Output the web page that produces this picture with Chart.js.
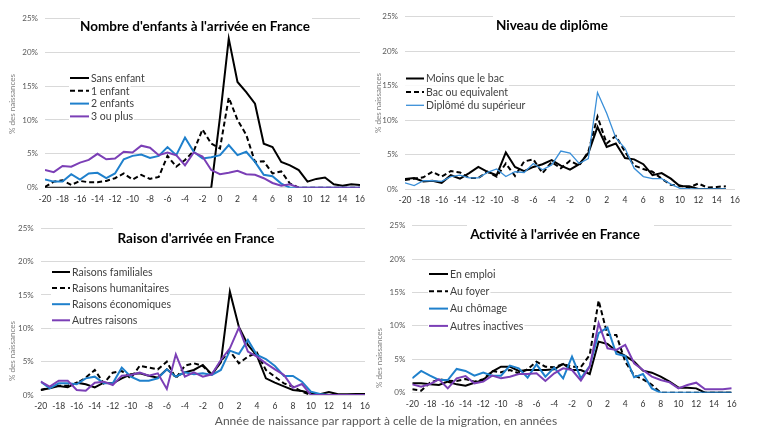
<!DOCTYPE html>
<html>
<head>
<meta charset="utf-8">
<script src="https://cdn.jsdelivr.net/npm/chart.js@4.4.1/dist/chart.umd.min.js"></script>
<style>
  body { margin: 0; background: #fff; width: 760px; height: 432px; position: relative; overflow: hidden; font-family: Lato, sans-serif; }
  canvas { position: absolute; }
  #xtitle { position: absolute; left: 0; width: 772px; top: 413px; text-align: center; font-size: 12px; color: #595959; }
</style>
</head>
<body>
<canvas id="enfants" width="380" height="210" style="left:0;top:0"></canvas>
<canvas id="diplome" width="392" height="210" style="left:368px;top:0"></canvas>
<canvas id="raison" width="380" height="222" style="left:0;top:210px"></canvas>
<canvas id="activite" width="392" height="222" style="left:368px;top:210px"></canvas>
<div id="xtitle">Année de naissance par rapport à celle de la migration, en années</div>
<script>
// years relative to migration
const years = [-20, -19, -18, -17, -16, -15, -14, -13, -12, -11, -10, -9, -8, -7, -6, -5, -4, -3, -2, -1,
  0, 1, 2, 3, 4, 5, 6, 7, 8, 9, 10, 11, 12, 13, 14, 15, 16];
const xTicks = [-20, -18, -16, -14, -12, -10, -8, -6, -4, -2, 0, 2, 4, 6, 8, 10, 12, 14, 16];
const yTicks = [0, 5, 10, 15, 20, 25];

// Nombre d'enfants à l'arrivée en France
const sansEnfant = [0, 0, 0, 0, 0, 0, 0, 0, 0, 0, 0, 0, 0, 0, 0, 0, 0, 0, 0, 0,
  10.4, 22.0, 15.6, 14.1, 12.4, 6.5, 6.0, 3.8, 3.3, 2.6, 0.9, 1.3, 1.5, 0.5, 0.3, 0.5, 0.4];
const unEnfant = [0.1, 0.9, 1.1, 0.4, 1.0, 0.8, 0.8, 1.0, 1.4, 2.1, 1.2, 1.9, 1.3, 1.6, 4.7, 3.1, 4.1, 5.4, 8.6, 6.5,
  5.8, 13.3, 10.0, 7.8, 3.8, 3.9, 2.1, 2.4, 0.6, 0, 0, 0, 0, 0, 0, 0, 0];
const deuxEnfants = [1.2, 0.9, 0.9, 2.0, 1.2, 2.1, 2.2, 1.4, 2.1, 4.2, 4.7, 4.9, 4.4, 4.7, 6.0, 4.8, 7.4, 5.3, 4.3, 4.5,
  4.8, 6.3, 4.8, 5.3, 3.8, 1.9, 1.7, 0.6, 0, 0, 0, 0, 0, 0, 0, 0, 0];
const troisPlus = [2.6, 2.3, 3.2, 3.1, 3.7, 4.1, 5.0, 4.2, 4.3, 5.3, 5.2, 6.2, 5.9, 4.8, 5.2, 4.8, 3.3, 5.2, 4.6, 2.6,
  2.0, 2.2, 2.5, 2.0, 1.9, 1.4, 0.7, 0.3, 0.5, 0, 0, 0, 0, 0, 0, 0, 0];

// Niveau de diplôme (up to +15)
const moinsBac = [1.45, 1.6, 1.1, 1.2, 0.9, 2.0, 1.5, 2.3, 3.2, 2.5, 2.0, 5.3, 3.2, 2.6, 3.2, 3.6, 4.2, 3.4, 2.8, 3.6,
  5.2, 9.0, 6.1, 6.6, 4.5, 4.3, 3.6, 2.0, 2.3, 1.5, 0.4, 0.4, 0, 0, 0, 0];
const bacEquiv = [1.3, 1.5, 1.7, 2.5, 1.8, 2.6, 2.4, 1.6, 1.6, 2.5, 1.8, 3.7, 1.9, 4.0, 4.3, 2.3, 3.9, 3.0, 4.1, 3.4,
  5.4, 10.5, 6.6, 7.7, 5.4, 3.4, 2.9, 2.5, 1.5, 0.6, 0.5, 0.2, 0.8, 0.2, 0.3, 0.4];
const superieur = [0.9, 0.5, 1.2, 1.2, 1.1, 1.8, 2.0, 1.6, 1.6, 2.4, 2.9, 1.8, 2.5, 2.4, 3.7, 2.8, 3.5, 5.5, 5.2, 3.7,
  4.4, 14.0, 11.0, 7.4, 5.9, 3.0, 1.8, 1.5, 1.5, 0.7, 0.1, 0, 0, 0, 0, 0];

// Raison d'arrivée en France
const familiales = [0.75, 1.0, 1.35, 1.15, 1.85, 1.6, 1.15, 1.85, 1.75, 2.5, 3.1, 3.25, 2.9, 2.6, 3.85, 2.75, 3.4, 3.75, 4.5, 3.1,
  4.9, 15.5, 10.2, 7.5, 5.9, 2.5, 1.85, 1.3, 0.75, 0.6, 0.25, 0.1, 0.45, 0.1, 0.1, 0.15, 0.15];
const humanitaires = [0.75, 1.1, 1.4, 1.4, 1.75, 2.6, 3.75, 1.75, 3.35, 3.6, 2.5, 4.4, 4.1, 3.85, 5.0, 2.5, 4.4, 4.75, 4.35, 3.0,
  5.1, 6.6, 4.75, 5.75, 6.35, 3.75, 2.75, 1.75, 1.25, 0.5, 0, 0, 0, 0, 0, 0, 0];
const economiques = [2.0, 1.0, 1.75, 1.75, 1.6, 2.5, 2.75, 1.75, 1.75, 4.1, 2.75, 2.15, 2.15, 2.5, 3.85, 2.75, 3.4, 3.1, 3.25, 3.0,
  3.75, 6.65, 6.15, 8.25, 6.0, 5.4, 4.35, 2.85, 2.85, 2.0, 0.5, 0.15, 0, 0, 0, 0, 0];
const autresRaisons = [2.0, 1.25, 2.15, 2.15, 0.75, 0.65, 1.85, 2.0, 1.5, 2.9, 3.0, 3.35, 2.9, 3.25, 0.9, 6.1, 2.75, 3.4, 2.75, 3.1,
  5.25, 7.0, 10.1, 6.5, 5.75, 4.75, 3.85, 3.0, 1.1, 1.65, 0, 0, 0, 0, 0, 0, 0];

// Activité à l'arrivée en France
const enEmploi = [1.4, 1.4, 1.25, 1.15, 1.65, 1.25, 1.05, 1.5, 1.9, 3.15, 3.9, 3.9, 3.25, 3.4, 3.4, 3.4, 3.5, 4.3, 3.4, 3.4,
  2.8, 7.65, 7.3, 6.25, 5.5, 4.65, 3.3, 3.0, 2.4, 1.65, 0.75, 0.75, 0.65, 0, 0, 0, 0];
const auFoyer = [0.5, 0.3, 1.5, 2.0, 1.8, 1.75, 2.05, 1.65, 2.0, 3.25, 3.05, 3.4, 2.9, 3.5, 4.65, 3.9, 3.8, 4.3, 3.9, 3.85,
  5.65, 13.8, 8.65, 8.65, 4.65, 2.6, 2.0, 1.2, 0, 0, 0, 0, 0, 0, 0, 0, 0];
const auChomage = [2.15, 3.25, 2.55, 1.9, 1.9, 3.55, 3.25, 2.55, 3.0, 2.55, 2.55, 4.05, 3.65, 2.25, 4.25, 2.4, 3.75, 2.15, 5.4, 2.15,
  4.0, 8.9, 9.75, 5.8, 5.5, 2.3, 2.8, 0.65, 0, 0, 0, 0, 0, 0, 0, 0, 0];
const autresInactives = [1.25, 0.9, 1.3, 2.0, 0.65, 2.15, 2.5, 1.4, 1.65, 2.55, 2.15, 2.4, 2.8, 2.8, 2.9, 1.75, 2.9, 3.65, 3.4, 1.8,
  3.9, 10.4, 6.65, 6.4, 7.15, 4.4, 3.4, 2.4, 1.9, 1.55, 0.65, 1.15, 1.5, 0.5, 0.5, 0.5, 0.65];

const BLACK = "#000000";
const BLUE = "#1f80cc";
const PURPLE = "#7b3fb6";

function series(label, values, color, width, dash) {
  return { label, values, color, width: width || 2, dash: dash || [] };
}

// title box, title text, rotated y title and the in-plot legend
const panelDecor = {
  id: "panelDecor",
  beforeDatasetsDraw(chart, args, o) {
    const ctx = chart.ctx;
    ctx.save();
    ctx.fillStyle = "#fff";
    ctx.fillRect(o.box[0], o.box[1], o.box[2], o.box[3]);
    ctx.fillStyle = "#000";
    ctx.font = "bold 13.5px Lato";
    ctx.textAlign = "center";
    ctx.textBaseline = "middle";
    ctx.fillText(o.title, o.titleX, o.titleY);
    ctx.translate(o.yTitleX, o.yTitleY);
    ctx.rotate(-Math.PI / 2);
    ctx.font = "8px Lato";
    ctx.fillStyle = "#808080";
    ctx.fillText("% des naissances", 0, 0);
    ctx.restore();
  },
  afterDatasetsDraw(chart, args, o) {
    const ctx = chart.ctx;
    ctx.save();
    ctx.font = "10.5px Lato";
    ctx.textBaseline = "middle";
    chart.data.datasets.forEach((ds, i) => {
      const y = o.legY + i * o.legGap;
      const tw = ctx.measureText(ds.label).width;
      ctx.fillStyle = "#fff";
      ctx.fillRect(o.legX - 1, y - o.legGap / 2, o.legLen + 4 + tw, o.legGap);
      ctx.strokeStyle = ds.borderColor;
      ctx.lineWidth = ds.borderWidth;
      ctx.setLineDash(ds.borderDash || []);
      ctx.beginPath();
      ctx.moveTo(o.legX, y);
      ctx.lineTo(o.legX + o.legLen, y);
      ctx.stroke();
      ctx.setLineDash([]);
      ctx.fillStyle = "#404040";
      ctx.fillText(ds.label, o.legX + o.legLen + 2, y + 0.5);
    });
    ctx.restore();
  },
};

function makePanel(id, pos, area, list, decor) {
  const canvas = document.getElementById(id);
  const yWidth = area.l - pos.left;
  const xHeight = pos.top + pos.h - area.b;
  const d = {};
  // convert page coordinates to canvas coordinates
  d.box = [decor.box[0] - pos.left, decor.box[1] - pos.top, decor.box[2], decor.box[3]];
  d.title = decor.title;
  d.titleX = decor.titleX - pos.left;
  d.titleY = decor.titleY - pos.top;
  d.yTitleX = decor.yTitle[0] - pos.left;
  d.yTitleY = decor.yTitle[1] - pos.top;
  d.legX = decor.legX - pos.left;
  d.legY = decor.legY - pos.top;
  d.legGap = decor.legGap;
  d.legLen = decor.legLen;

  new Chart(canvas, {
    type: "line",
    data: {
      datasets: list.map((s, i) => ({
        label: s.label,
        data: s.values.map((v, k) => ({ x: years[k], y: v })),
        borderColor: s.color,
        borderWidth: s.width,
        borderDash: s.dash,
        pointRadius: 0,
        tension: 0,
        fill: false,
        order: -i,
      })),
    },
    options: {
      responsive: false,
      animation: false,
      layout: {
        padding: { left: 0, top: area.t - pos.top, right: pos.left + pos.w - area.r, bottom: 0 },
      },
      plugins: {
        legend: { display: false },
        tooltip: { enabled: false },
        panelDecor: d,
      },
      scales: {
        x: {
          type: "linear",
          min: -20,
          max: 16,
          afterFit: (s) => { s.height = xHeight; },
          afterBuildTicks: (s) => { s.ticks = xTicks.map((v) => ({ value: v })); },
          ticks: { color: "#333333", font: { family: "Lato", size: 8.5 }, padding: 6, maxRotation: 0 },
          grid: { display: false, drawTicks: false },
          border: { display: false },
        },
        y: {
          min: 0,
          max: 25,
          afterFit: (s) => { s.width = yWidth; },
          afterBuildTicks: (s) => { s.ticks = yTicks.map((v) => ({ value: v })); },
          ticks: { color: "#595959", font: { family: "Lato", size: 8 }, padding: 7, callback: (v) => v + "%" },
          grid: { color: "#d9d9d9", lineWidth: 1, drawTicks: false },
          border: { display: false },
        },
      },
    },
    plugins: [panelDecor],
  });
}

makePanel("enfants",
  { left: 0, top: 0, w: 380, h: 210 },
  { l: 45, r: 360, t: 18.3, b: 187.7 },
  [
    series("Sans enfant", sansEnfant, BLACK),
    series("1 enfant", unEnfant, BLACK, 2, [5, 3]),
    series("2 enfants", deuxEnfants, BLUE),
    series("3 ou plus", troisPlus, PURPLE),
  ],
  { title: "Nombre d'enfants à l'arrivée en France", titleX: 195, titleY: 27, box: [80, 11, 232, 26],
    yTitle: [12, 104], legX: 70, legY: 78, legGap: 12.8, legLen: 19 });

makePanel("diplome",
  { left: 368, top: 0, w: 392, h: 210 },
  { l: 405, r: 735, t: 16.7, b: 189 },
  [
    series("Moins que le bac", moinsBac, BLACK),
    series("Bac ou equivalent", bacEquiv, BLACK, 2, [5, 3]),
    series("Diplômé du supérieur", superieur, "#3a8fd8", 1.3),
  ],
  { title: "Niveau de diplôme", titleX: 552, titleY: 26, box: [493, 9, 127, 28],
    yTitle: [378, 103], legX: 406, legY: 78.5, legGap: 13.4, legLen: 18 });

makePanel("raison",
  { left: 0, top: 210, w: 380, h: 222 },
  { l: 40.7, r: 365, t: 228.3, b: 395 },
  [
    series("Raisons familiales", familiales, BLACK),
    series("Raisons humanitaires", humanitaires, BLACK, 2, [5, 3]),
    series("Raisons économiques", economiques, BLUE),
    series("Autres raisons", autresRaisons, PURPLE),
  ],
  { title: "Raison d'arrivée en France", titleX: 196, titleY: 239, box: [113, 221, 164, 30],
    yTitle: [12, 351], legX: 52, legY: 272, legGap: 16.1, legLen: 18 });

makePanel("activite",
  { left: 368, top: 210, w: 392, h: 222 },
  { l: 412.3, r: 731.7, t: 225.7, b: 392.7 },
  [
    series("En emploi", enEmploi, BLACK),
    series("Au foyer", auFoyer, BLACK, 2, [5, 3]),
    series("Au chômage", auChomage, BLUE),
    series("Autres inactives", autresInactives, PURPLE),
  ],
  { title: "Activité à l'arrivée en France", titleX: 555, titleY: 235, box: [467, 218, 187, 30],
    yTitle: [379, 358], legX: 429, legY: 274, legGap: 17.3, legLen: 19 });
</script>
</body>
</html>
